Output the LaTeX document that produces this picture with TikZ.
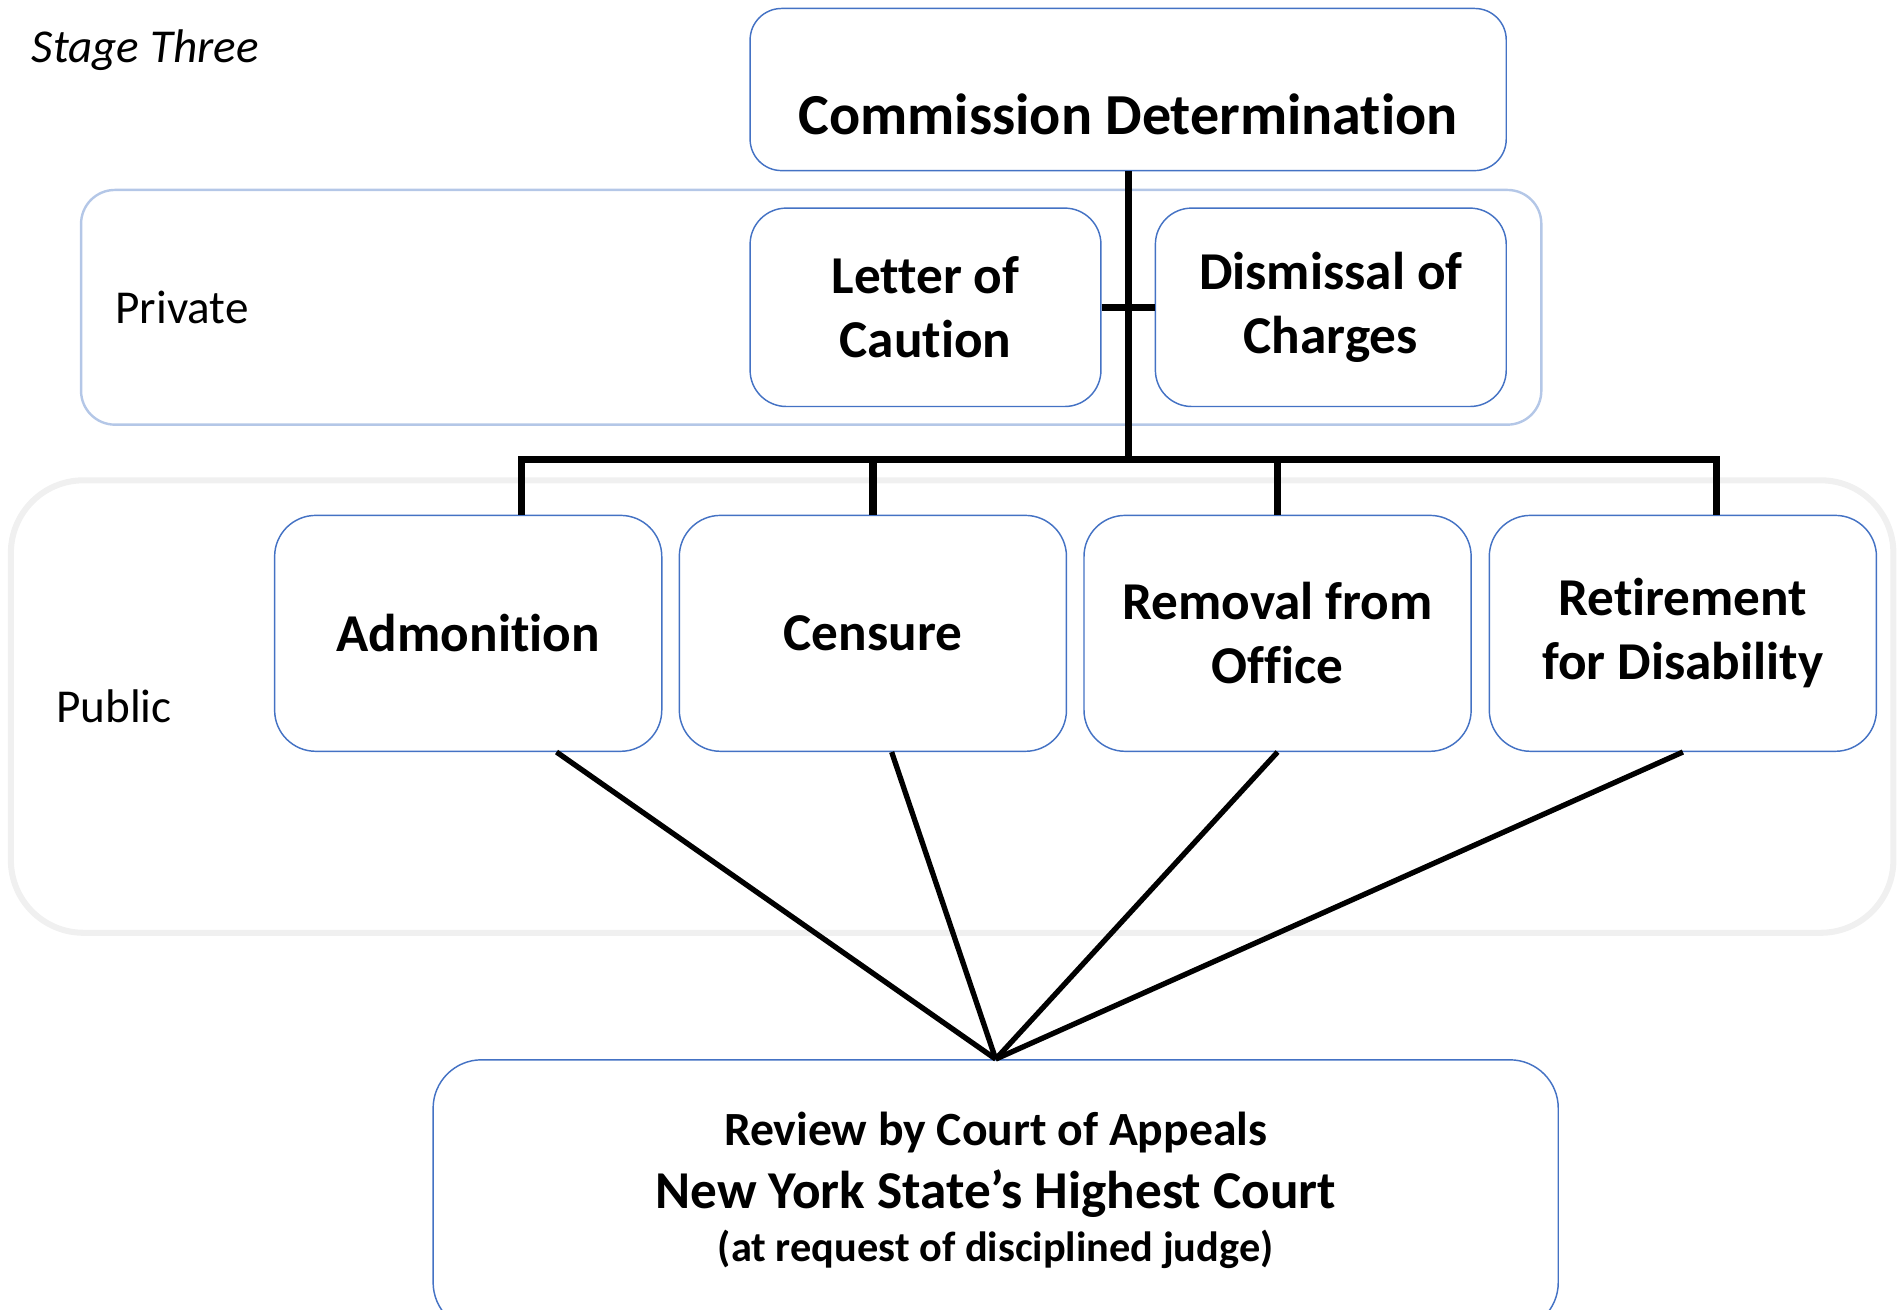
\documentclass[tikz,border=0pt]{standalone}
\usepackage{fontspec}
\setmainfont{Carlito}[RawFeature={-liga;-clig;-calt;-dlig}]
\definecolor{boxblue}{HTML}{4472C4}
\definecolor{privblue}{HTML}{B4C7E7}
\definecolor{pubgray}{HTML}{F0F0F0}
\begin{document}
\begin{tikzpicture}[x=0.5pt,y=-0.5pt,
  box/.style={draw=boxblue, line width=0.6pt, fill=white, rounded corners=15pt, align=center, inner sep=0pt, font=\fontsize{22}{26.5}\selectfont\bfseries},
  pubbox/.style={box, minimum width=160pt, minimum height=97.5pt, rounded corners=17pt},
  privbox/.style={box, minimum width=145pt, minimum height=82pt},
  tree/.style={line width=3pt},
  diag/.style={line width=2.2pt},
  lbl/.style={font=\fontsize{19.5}{23}\selectfont, inner sep=0pt, anchor=base west}]
\useasboundingbox (0,0) rectangle (1568,1082);
\clip (0,0) rectangle (1568,1082);
% groups
\draw[privblue, line width=1pt, rounded corners=14pt] (67,157) rectangle (1274,351);
\draw[pubgray, line width=2.5pt, rounded corners=30pt] (9,397) rectangle (1565,771);
% labels
\node[lbl, font=\fontsize{19.5}{23}\selectfont\itshape] (stage) at (26,52) {Stage Three};
\node[lbl] (private) at (95,267) {Private};
\node[lbl] (public) at (46,597) {Public};
% boxes
\node[box, minimum width=312.5pt, minimum height=67pt, rounded corners=13pt] (comm) at (932.5,74) {};
\node[inner sep=0pt, anchor=base, font=\fontsize{24}{28}\selectfont\bfseries] (commtext) at (932.5,111) {Commission Determination};
\node[privbox] (letter) at (765,254) {Letter of\\Caution};
\node[privbox] (dism) at (1100,254) {Dismissal of\\Charges};
\node[pubbox] (adm) at (387,523.5) {Admonition};
\node[pubbox] (cens) at (721.5,523.5) {Censure};
\node[pubbox] (remv) at (1056,523.5) {Removal from\\Office};
\node[pubbox] (retr) at (1391,523.5) {Retirement\\for Disability};
\node[box, minimum width=465pt, minimum height=112pt, rounded corners=20pt] (rev) at (823,988) {};
\node[inner sep=0pt, anchor=base, font=\fontsize{19.7}{23}\selectfont\bfseries] (rev1) at (823,947) {Review by Court of Appeals};
\node[inner sep=0pt, anchor=base, font=\fontsize{22}{26}\selectfont\bfseries] (rev2) at (823,999) {New York State’s Highest Court};
\node[inner sep=0pt, anchor=base, font=\fontsize{17.5}{21}\selectfont\bfseries] (rev3) at (823,1043) {(at request of disciplined judge)};
% tree connectors
\coordinate (hub) at (932.5,380);
\draw[tree] (comm.south) -- (hub);
\draw[tree] (letter.east) -- (dism.west);
\draw[tree] ([xshift=22pt]adm.north) -- ([xshift=22pt]adm.north |- hub) -- ([xshift=14pt]retr.north |- hub) -- ([xshift=14pt]retr.north);
\draw[tree] (cens.north) -- (cens.north |- hub);
\draw[tree] (remv.north) -- (remv.north |- hub);
% review connectors
\draw[diag] ([xshift=36.5pt]adm.south) -- (rev.north);
\draw[diag] ([xshift=7.75pt]cens.south) -- (rev.north);
\draw[diag] (remv.south) -- (rev.north);
\draw[diag] (retr.south) -- (rev.north);
\end{tikzpicture}
\end{document}
